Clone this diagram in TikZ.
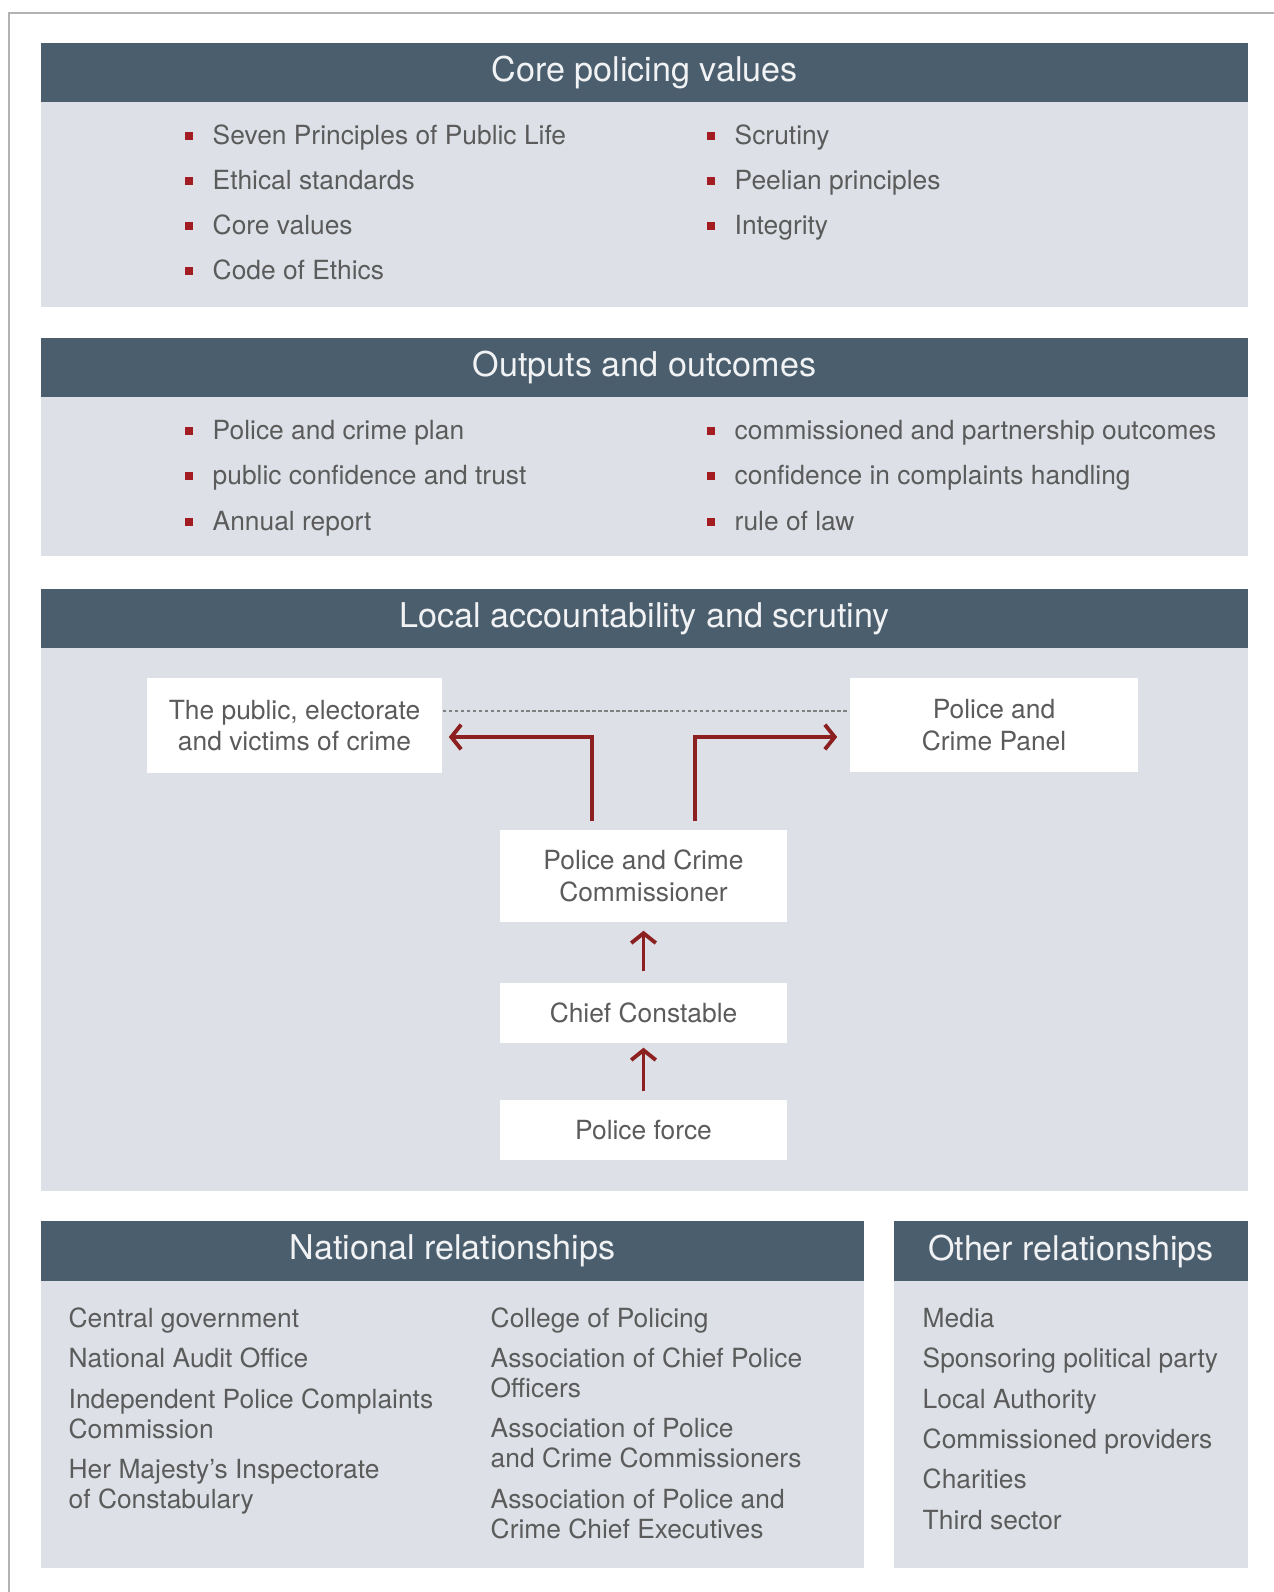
\documentclass[tikz,border=0pt]{standalone}
\usepackage{fontspec}
\setmainfont{TeX Gyre Heros}
\usetikzlibrary{arrows.meta}
\definecolor{hdr}{HTML}{4B5E6E}
\definecolor{pane}{HTML}{DDE1E7}
\definecolor{txt}{HTML}{5B5B5B}
\definecolor{bul}{HTML}{A31C22}
\definecolor{arr}{HTML}{8C2020}

\begin{document}
\begin{tikzpicture}[x = 0.01cm, y = -0.01cm,
 hd/.style = {fill = hdr, text = white!92!hdr, inner sep = 0pt, font = \fontsize{9.7}{11}\selectfont},
 bx/.style = {fill = white, text = txt, inner sep = 0pt, align = center, font = \fontsize{7.5}{8.9}\selectfont},
 it/.style = {anchor = base west, text = txt, inner sep = 0pt, align = left, font = \fontsize{7.5}{8.5}\selectfont},
 sq/.style = {fill = bul, inner sep = 0pt, minimum size = 2.3pt},
 ar/.style = {draw = arr, line width = 1.1pt, -{Straight Barb[length=2.8pt, width=7pt]}}]
 \useasboundingbox (0,0) rectangle (1274,1592);
 \draw[gray!60, line width = 0.6pt] (1274,13) -- (9,13) -- (9,1592);

 % panes
 \fill[pane] (41,102) rectangle (1248,307);
 \fill[pane] (41,397) rectangle (1248,556);
 \fill[pane] (41,648) rectangle (1248,1191);
 \fill[pane] (41,1281) rectangle (864,1568);
 \fill[pane] (894,1281) rectangle (1248,1568);

 \node[hd, minimum width = 12.07cm, minimum height = 0.59cm] (CV) at (644.5,72.5) {Core policing values};
 \node[hd, minimum width = 12.07cm, minimum height = 0.59cm] (OO) at (644.5,367.5) {Outputs and outcomes};
 \node[hd, minimum width = 12.07cm, minimum height = 0.59cm] (LA) at (644.5,618.5) {Local accountability and scrutiny};
 \node[hd, minimum width = 8.23cm, minimum height = 0.60cm] (NR) at (452.5,1251) {National relationships};
 \node[hd, minimum width = 3.54cm, minimum height = 0.60cm] (OR) at (1071,1251) {Other relationships};

 % core policing values
 \node[sq] (b1) at (189,136) {}; \node[it] (c1) at (212,145) {Seven Principles of Public Life};
 \node[sq] (b2) at (189,181) {}; \node[it] (c2) at (212,190) {Ethical standards};
 \node[sq] (b3) at (189,226) {}; \node[it] (c3) at (212,235) {Core values};
 \node[sq] (b4) at (189,271) {}; \node[it] (c4) at (212,280) {Code of Ethics};
 \node[sq] (b5) at (711,136) {}; \node[it] (c5) at (734,145) {Scrutiny};
 \node[sq] (b6) at (711,181) {}; \node[it] (c6) at (734,190) {Peelian principles};
 \node[sq] (b7) at (711,226) {}; \node[it] (c7) at (734,235) {Integrity};

 % outputs and outcomes
 \node[sq] (d1) at (189,431) {}; \node[it] (o1) at (212,440) {Police and crime plan};
 \node[sq] (d2) at (189,476) {}; \node[it] (o2) at (212,485) {public confidence and trust};
 \node[sq] (d3) at (189,522) {}; \node[it] (o3) at (212,531) {Annual report};
 \node[sq] (d4) at (711,431) {}; \node[it] (o4) at (734,440) {commissioned and partnership outcomes};
 \node[sq] (d5) at (711,476) {}; \node[it] (o5) at (734,485) {confidence in complaints handling};
 \node[sq] (d6) at (711,522) {}; \node[it] (o6) at (734,531) {rule of law};

 % local accountability
 \node[bx, minimum width = 2.95cm, minimum height = 0.95cm] (pub) at (294.5,725.5) {The public, electorate\\and victims of crime};
 \node[bx, minimum width = 2.88cm, minimum height = 0.94cm] (pan) at (994,725) {Police and\\Crime Panel};
 \node[bx, minimum width = 2.87cm, minimum height = 0.92cm] (PCC) at (643.5,876) {Police and Crime\\Commissioner};
 \node[bx, minimum width = 2.87cm, minimum height = 0.60cm] (CC) at (643.5,1013) {Chief Constable};
 \node[bx, minimum width = 2.87cm, minimum height = 0.60cm] (PF) at (643.5,1130) {Police force};
 \coordinate (D) at (0,711);
 \coordinate (L) at (592,737);
 \coordinate (R) at (695,737);
 \draw[gray, line width = 0.5pt, dash pattern = on 1pt off 0.7pt] (pub.east |- D) -- (pan.west |- D);
 \draw[ar, shorten > = 0.06cm] ([yshift = 0.08cm]PCC.north -| L) -- (L) -- (pub.east |- L);
 \draw[ar, shorten > = 0.12cm] ([yshift = 0.08cm]PCC.north -| R) -- (R) -- (pan.west |- R);
 \draw[ar] ([yshift = 0.11cm]CC.north) -- ([yshift = -0.08cm]PCC.south);
 \draw[ar] ([yshift = 0.08cm]PF.north) -- ([yshift = -0.04cm]CC.south);

 % national relationships (base = last line)
 \node[it] (n1) at (68,1327) {Central government};
 \node[it] (n2) at (68,1367) {National Audit Office};
 \node[it] (n3) at (68,1438) {Independent Police Complaints\\Commission};
 \node[it] (n4) at (68,1508) {Her Majesty's Inspectorate\\of Constabulary};
 \node[it] (n5) at (490,1327) {College of Policing};
 \node[it] (n6) at (490,1397) {Association of Chief Police\\Officers};
 \node[it] (n7) at (490,1467) {Association of Police\\and Crime Commissioners};
 \node[it] (n8) at (490,1538) {Association of Police and\\Crime Chief Executives};

 % other relationships
 \node[it] (r1) at (922,1327) {Media};
 \node[it] (r2) at (922,1367) {Sponsoring political party};
 \node[it] (r3) at (922,1408) {Local Authority};
 \node[it] (r4) at (922,1448) {Commissioned providers};
 \node[it] (r5) at (922,1488) {Charities};
 \node[it] (r6) at (922,1529) {Third sector};
\end{tikzpicture}
\end{document}
